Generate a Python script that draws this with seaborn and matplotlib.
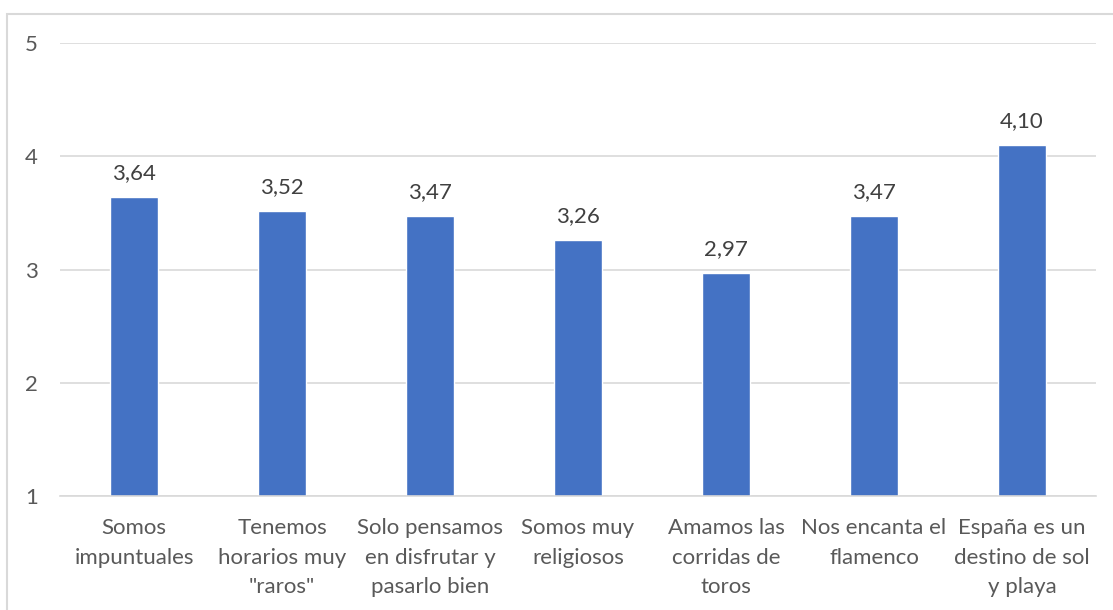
import matplotlib
matplotlib.use("Agg")
import matplotlib.pyplot as plt
import seaborn as sns
import pandas as pd
from matplotlib.patches import Rectangle

categories = [
    "Somos\nimpuntuales",
    "Tenemos\nhorarios muy\n\"raros\"",
    "Solo pensamos\nen disfrutar y\npasarlo bien",
    "Somos muy\nreligiosos",
    "Amamos las\ncorridas de\ntoros",
    "Nos encanta el\nflamenco",
    "España es un\ndestino de sol\ny playa",
]
values = [3.64, 3.52, 3.47, 3.26, 2.97, 3.47, 4.10]
y_ticks = [1, 2, 3, 4, 5]

sns.set_theme(style="white")
plt.rcParams["font.family"] = ["Lato", "DejaVu Sans"]

df = pd.DataFrame({"categoria": categories, "valor": values})

W, H = 1113, 610
fig = plt.figure(figsize=(W / 100, H / 100), dpi=100)
ax = fig.add_axes([60 / W, 114 / H, (1096 - 60) / W, (496 - 43) / H])

sns.barplot(data=df, x="categoria", y="valor", color="#4472C4",
            width=0.32, saturation=1, ax=ax)

ax.set_ylim(1, 5)
ax.set_yticks(y_ticks)
ax.set_xlim(-0.5, len(categories) - 0.5)
ax.set_xticks(range(len(categories)))
ax.set_xticklabels(categories, linespacing=1.6)
ax.yaxis.grid(True, color="#D9D9D9", linewidth=1.2)
ax.set_axisbelow(True)
for side in ["top", "right", "left"]:
    ax.spines[side].set_visible(False)
ax.spines["bottom"].set_color("#D9D9D9")
ax.spines["bottom"].set_linewidth(1.2)
ax.set_xlabel("")
ax.set_ylabel("")
ax.tick_params(axis="both", length=0, labelsize=16, colors="#595959")
ax.tick_params(axis="y", pad=16)
ax.tick_params(axis="x", pad=16)

ax.bar_label(ax.containers[0],
             labels=[f"{v:.2f}".replace(".", ",") for v in values],
             padding=10, fontsize=16, color="#404040")

# chart frame
fig.patches.append(Rectangle((7 / W, -0.05), 1.2, 1.05 - 14 / H,
                             transform=fig.transFigure, fill=False,
                             edgecolor="#D9D9D9", linewidth=1.5))

fig.savefig("out.png", dpi=100, facecolor="white")
